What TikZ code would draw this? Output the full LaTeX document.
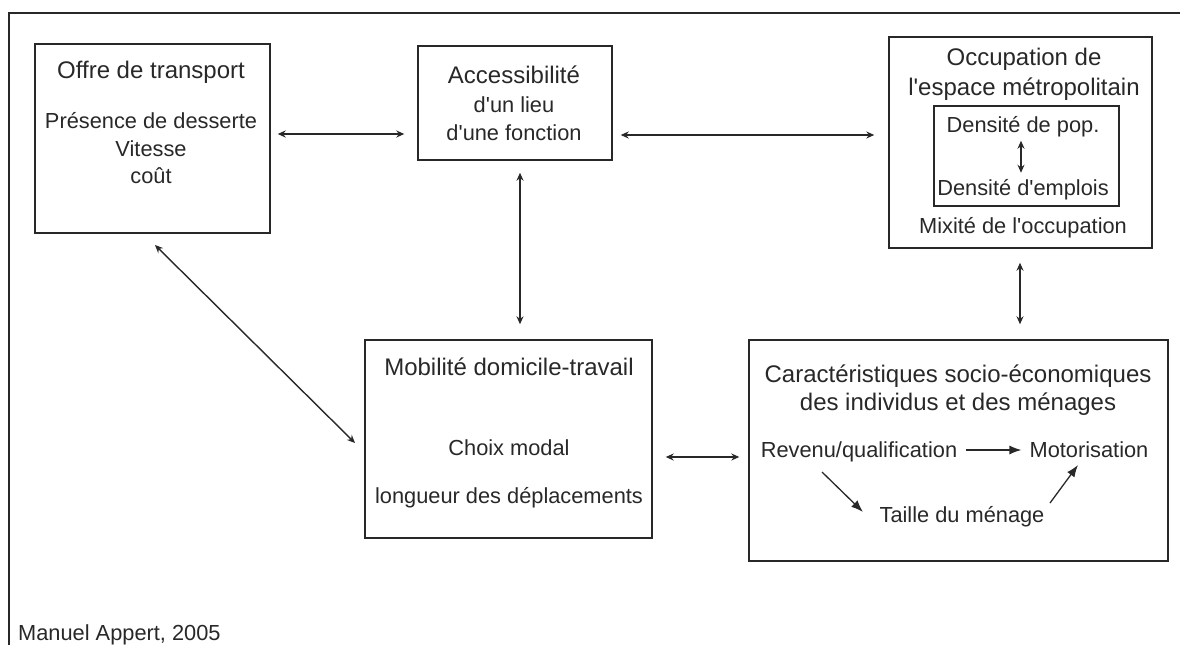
\documentclass[tikz,border=0pt]{standalone}
\usepackage{fontspec}
\setmainfont{Liberation Sans}
\usetikzlibrary{arrows.meta}
\definecolor{ink}{RGB}{40,40,40}
\newcommand{\apo}{\textquotesingle}
\begin{document}
\begin{tikzpicture}[x=1pt,y=-1pt,
  box/.style={draw=ink, line width=1.4pt, inner sep=0pt},
  ttl/.style={text=ink, font=\fontsize{24}{28}\selectfont, anchor=base, inner sep=0pt},
  txt/.style={text=ink, font=\fontsize{21.8}{26}\selectfont, anchor=base, inner sep=0pt},
  dbl/.style={draw=ink, line width=1.4pt, {Stealth[length=8pt,width=7pt]}-{Stealth[length=8pt,width=7pt]}},
  one/.style={draw=ink, line width=1.3pt, -{Latex[length=12pt,width=9pt]}}]
\useasboundingbox (0,0) rectangle (1180,645);
\draw[ink, line width=1.4pt] (9,645) -- (9,13) -- (1180,13);

% boxes
\node[box, minimum width=235pt, minimum height=189pt] (offre) at (152.5,138.5) {};
\node[box, minimum width=194pt, minimum height=114pt] (access) at (515,103) {};
\node[box, minimum width=263pt, minimum height=211pt] (occup) at (1020.5,142.5) {};
\node[box, minimum width=185pt, minimum height=100pt] (dens) at (1026.5,156) {};
\node[box, minimum width=287pt, minimum height=198pt] (mob) at (508.5,439) {};
\node[box, minimum width=419pt, minimum height=221pt] (car) at (958.5,450.5) {};

% texts
\node[ttl] (t1) at (151,78) {Offre de transport};
\node[txt] (t2) at (151,128.5) {Présence de desserte};
\node[txt] (t3) at (151,156) {Vitesse};
\node[txt] (t4) at (151,183) {coût};

\node[ttl] (a1) at (514,83) {Accessibilité};
\node[txt] (a2) at (514,112) {d\apo un lieu};
\node[txt] (a3) at (514,140) {d\apo une fonction};

\node[ttl] (o1) at (1024,65) {Occupation de};
\node[ttl] (o2) at (1024,95) {l\apo espace métropolitain};
\node[txt] (dpop) at (1023,132) {Densité de pop.};
\node[txt] (demp) at (1023,195) {Densité d\apo emplois};
\node[txt] (mix) at (1023,233) {Mixité de l\apo occupation};

\node[ttl] (m1) at (509,375) {Mobilité domicile-travail};
\node[txt] (m2) at (509,455) {Choix modal};
\node[txt] (m3) at (509,503) {longueur des déplacements};

\node[ttl] (c1) at (958,382) {Caractéristiques socio-économiques};
\node[ttl] (c2) at (958,410) {des individus et des ménages};
\node[txt] (rev) at (859,457) {Revenu/qualification};
\node[txt] (mot) at (1089,457) {Motorisation};
\node[txt] (tai) at (962,522) {Taille du ménage};

\node[txt, anchor=base west] (src) at (18,640) {Manuel Appert, 2005};

% connectors
\draw[dbl, shorten <=7pt, shorten >=13pt] (offre.east |- 0,134) -- (access.west |- 0,134);
\draw[dbl, shorten <=8pt, shorten >=14pt] (access.east |- 0,135) -- (occup.west |- 0,135);
\draw[dbl, shorten <=12pt, shorten >=15pt] (access.south -| 520,0) -- (mob.north -| 520,0);
\draw[dbl, shorten <=14pt, shorten >=15pt] (occup.south -| 1020,0) -- (car.north -| 1020,0);
\draw[dbl, shorten <=13pt, shorten >=9pt] (mob.east |- 0,457) -- (car.west |- 0,457);
\coordinate (d1) at (155,245);
\coordinate (d2) at (355,443);
\draw[dbl] (d1) -- (d2);
\draw[dbl, shorten <=4pt, shorten >=6pt] (dpop.south -| 1021,0) -- (demp.north -| 1021,0);

\draw[one] (rev.east |- 0,450) ++(9,0) -- ([xshift=-8pt]mot.west |- 0,450);
\coordinate (r1) at (822,472);
\coordinate (r2) at (863,512);
\draw[one] (r1) -- (r2);
\coordinate (s1) at (1050,503);
\coordinate (s2) at (1078,465);
\draw[one] (s1) -- (s2);
\end{tikzpicture}
\end{document}
